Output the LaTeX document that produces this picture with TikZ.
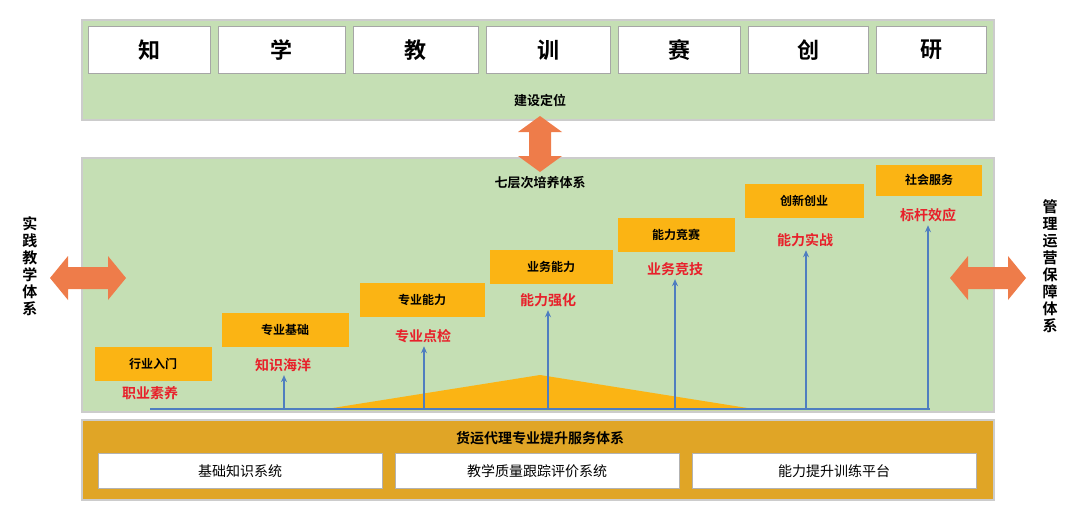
\documentclass[tikz,border=0pt]{standalone}
\usepackage{fontspec}
\setmainfont{Noto Sans CJK SC}
\newfontfamily\cjkb{Noto Sans CJK SC Bold}
\usetikzlibrary{arrows.meta}
\definecolor{pgreen}{HTML}{C5DFB4}
\definecolor{porange}{HTML}{FBB414}
\definecolor{borange}{HTML}{E0A526}
\definecolor{aorange}{HTML}{EE7C4A}
\definecolor{ablue}{HTML}{4F7EC0}
\definecolor{tred}{HTML}{E8202A}
\tikzset{
 panel/.style={draw=gray!40,line width=1.2pt,fill=pgreen},
 topbox/.style={draw=gray!70,fill=white,minimum height=47pt,font=\cjkb\fontsize{22}{22}\selectfont},
 stepbox/.style={fill=porange,minimum height=34pt,font=\cjkb\fontsize{12}{12}\selectfont},
 redtxt/.style={text=tred,font=\cjkb\fontsize{14}{14}\selectfont},
 upar/.style={ablue,line width=1.2pt,-{Stealth[length=7pt,width=6pt]}},
 wbox/.style={draw=gray!60,fill=white,minimum height=35pt,minimum width=284pt,font=\fontsize{14}{14}\selectfont}
}
\newcommand\hdbl[1]{\fill[aorange,shift={(#1)}] (-38,0) -- (-20,-22) -- (-20,-11) -- (20,-11) -- (20,-22) -- (38,0) -- (20,22) -- (20,11) -- (-20,11) -- (-20,22) -- cycle;}
\begin{document}
\begin{tikzpicture}[x=1pt,y=-1pt]
\useasboundingbox (0,0) rectangle (1080,517);
% top panel
\node[panel,minimum width=912pt,minimum height=100pt,inner sep=0pt] (top) at (538,70) {};
\foreach \a/\b/\t [count=\i] in {88/210/知,218/345/学,353/478/教,486/610/训,618/740/赛,748/868/创,876/986/研}{
 \pgfmathsetmacro\w{\b-\a}\pgfmathsetmacro\c{(\a+\b)/2}
 \node[topbox,minimum width=\w pt] (t\i) at (\c,50) {\t};}
\node[font=\cjkb\fontsize{13}{13}\selectfont] (jsdw) at (540,100) {建设定位};
% middle panel
\node[panel,minimum width=912pt,minimum height=254pt,inner sep=0pt] (mid) at (538,285) {};
\node[font=\cjkb\fontsize{13}{13}\selectfont] (title) at (540,183) {七层次培养体系};
% arrows
\fill[aorange] (540,116) -- (562,132) -- (551,132) -- (551,156) -- (562,156) -- (540,172) -- (518,156) -- (529,156) -- (529,132) -- (518,132) -- cycle;
\hdbl{88,278}
\hdbl{988,278}
\node[font=\cjkb\fontsize{15}{17}\selectfont,align=center] (lt) at (30,266) {实\\践\\教\\学\\体\\系};
\node[font=\cjkb\fontsize{15}{17}\selectfont,align=center] (rt) at (1050,266) {管\\理\\运\\营\\保\\障\\体\\系};
% triangle and baseline
\fill[porange] (320,410) -- (540,375) -- (760,410) -- cycle;
\coordinate (b0) at (150,409);
\coordinate (b1) at (930,409);
\draw[ablue,line width=1.2pt] (b0) -- (b1);
% steps
\node[stepbox,minimum width=117pt] (s1) at (153,364) {行业入门};
\node[redtxt] (r1) at (150,393) {职业素养};
\node[stepbox,minimum width=127pt] (s2) at (285,330) {专业基础};
\node[redtxt] (r2) at (283,365) {知识海洋};
\node[stepbox,minimum width=125pt] (s3) at (422,300) {专业能力};
\node[redtxt] (r3) at (423,336) {专业点检};
\node[stepbox,minimum width=123pt] (s4) at (551,267) {业务能力};
\node[redtxt] (r4) at (548,300) {能力强化};
\node[stepbox,minimum width=117pt] (s5) at (676,235) {能力竞赛};
\node[redtxt] (r5) at (675,269) {业务竞技};
\node[stepbox,minimum width=119pt] (s6) at (804,201) {创新创业};
\node[redtxt] (r6) at (805,240) {能力实战};
\node[stepbox,minimum width=106pt,minimum height=31pt] (s7) at (929,180) {社会服务};
\node[redtxt] (r7) at (928,215) {标杆效应};
\foreach \x/\r in {284/r2,424/r3,548/r4,675/r5,806/r6,928/r7}{
 \coordinate (f\r) at (\x,409);
 \draw[upar] (f\r) -- (f\r |- \r.south);}
% bottom panel
\node[draw=gray!40,line width=1.2pt,fill=borange,minimum width=912pt,minimum height=80pt,inner sep=0pt] (bot) at (538,460) {};
\node[font=\cjkb\fontsize{14}{14}\selectfont] (btitle) at (540,438) {货运代理专业提升服务体系};
\node[wbox] (w1) at (240,471) {基础知识系统};
\node[wbox] (w2) at (537,471) {教学质量跟踪评价系统};
\node[wbox] (w3) at (834,471) {能力提升训练平台};
\end{tikzpicture}
\end{document}
